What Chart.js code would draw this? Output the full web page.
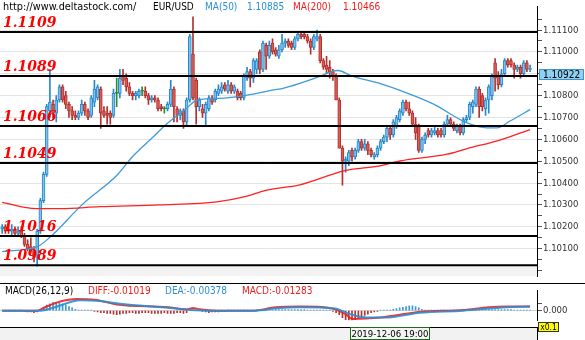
<!DOCTYPE html>
<html>
<head>
<meta charset="utf-8">
<script src="https://cdn.jsdelivr.net/npm/chart.js@4.4.1/dist/chart.umd.min.js"></script>
<style>
  body { margin: 0; width: 585px; height: 340px; position: relative; overflow: hidden; background: #fff;
         font-family: "DejaVu Sans Condensed", "DejaVu Sans", sans-serif; font-stretch: condensed; }
  .abs { position: absolute; }
  .hdr { top: 0; font-size: 10px; line-height: 14px; white-space: nowrap; }
  .leg { top: 284; font-size: 10px; line-height: 13px; white-space: nowrap; }
  #price-wrap { left: 0; top: 0; width: 585px; height: 283px; }
  #macd-wrap { left: 0; top: 284px; width: 585px; height: 43px; }
  #sep { left: 0; top: 283px; width: 585px; height: 0; border-top: 1px solid #000; }
  #foot { left: 0; top: 327px; width: 537px; height: 13px; background: #f2f2f2; border-top: 1px solid #000; border-right: 1px solid #000; }
  #stamp { left: 350px; top: 327px; width: 78px; height: 11px; border: 1px solid #1a6e1a; background: #f4f4f4;
           font-size: 9.5px; line-height: 12px; text-align: center; color: #000; }
  #scale { left: 538px; top: 322px; width: 19px; height: 8px; background: #ffff00; border: 1px solid #333;
           font-size: 8.5px; line-height: 9px; text-align: center; color: #000; }
</style>
</head>
<body>
<div id="price-wrap" class="abs"><canvas id="price"></canvas></div>
<div id="sep" class="abs"></div>
<div id="macd-wrap" class="abs"><canvas id="macd"></canvas></div>
<div id="foot" class="abs"></div>
<div id="stamp" class="abs">2019-12-06 19:00</div>
<div id="scale" class="abs">x0.1</div>

<div class="abs hdr" style="left:3px;color:#000;font-size:10.8px">http://www.deltastock.com/</div>
<div class="abs hdr" style="left:153px;color:#000">EUR/USD</div>
<div class="abs hdr" style="left:205px;color:#2a8fd6">MA(50)</div>
<div class="abs hdr" style="left:247px;color:#2a8fd6">1.10885</div>
<div class="abs hdr" style="left:293px;color:#f01c1c">MA(200)</div>
<div class="abs hdr" style="left:343px;color:#f01c1c">1.10466</div>

<div class="abs leg" style="top:284px;left:5px;color:#000">MACD(26,12,9)</div>
<div class="abs leg" style="top:284px;left:88px;color:#f01c1c">DIFF:-0.01019</div>
<div class="abs leg" style="top:284px;left:165px;color:#2a8fd6">DEA:-0.00378</div>
<div class="abs leg" style="top:284px;left:242px;color:#f01c1c">MACD:-0.01283</div>

<script>
// EUR/USD hourly candles: [open, high, low, close]
const ohlc = [
  [1.1019,1.1021,1.1017,1.1020],[1.1020,1.1021,1.1017,1.1018],[1.1019,1.1021,1.1017,1.1018],[1.1018,1.1021,1.1016,1.1019],
  [1.1019,1.1020,1.1016,1.1017],[1.1017,1.1020,1.1016,1.1018],[1.1018,1.1020,1.1015,1.1016],[1.1016,1.1017,1.1011,1.1012],
  [1.1012,1.1014,1.1009,1.1010],[1.1011,1.1015,1.1008,1.1009],[1.1009,1.1011,1.1004,1.1006],[1.1007,1.1019,1.1002,1.1018],
  [1.1018,1.1033,1.1017,1.1032],[1.1032,1.1045,1.1031,1.1044],[1.1044,1.1076,1.1043,1.1075],[1.1073,1.1092,1.1070,1.1077],
  [1.1076,1.1078,1.1070,1.1072],[1.1072,1.1080,1.1068,1.1078],[1.1078,1.1085,1.1077,1.1084],[1.1084,1.1085,1.1077,1.1078],
  [1.1080,1.1082,1.1074,1.1076],[1.1076,1.1077,1.1070,1.1073],[1.1073,1.1075,1.1069,1.1071],[1.1071,1.1073,1.1069,1.1070],
  [1.1070,1.1073,1.1069,1.1072],[1.1072,1.1078,1.1071,1.1076],[1.1076,1.1077,1.1071,1.1073],[1.1073,1.1074,1.1069,1.1070],
  [1.1071,1.1080,1.1070,1.1079],[1.1077,1.1087,1.1075,1.1083],[1.1079,1.1085,1.1078,1.1084],[1.1083,1.1084,1.1065,1.1072],
  [1.1073,1.1075,1.1070,1.1071],[1.1072,1.1075,1.1067,1.1071],[1.1072,1.1073,1.1067,1.1070],[1.1071,1.1083,1.1070,1.1081],
  [1.1081,1.1088,1.1075,1.1081],[1.1081,1.1092,1.1079,1.1088],[1.1089,1.1092,1.1085,1.1087],[1.1088,1.1090,1.1082,1.1084],
  [1.1084,1.1086,1.1080,1.1081],[1.1081,1.1082,1.1078,1.1080],[1.1080,1.1082,1.1078,1.1081],[1.1080,1.1083,1.1079,1.1082],
  [1.1082,1.1084,1.1080,1.1082],[1.1082,1.1084,1.1079,1.1080],[1.1080,1.1081,1.1076,1.1078],[1.1078,1.1080,1.1077,1.1079],
  [1.1079,1.1080,1.1077,1.1078],[1.1078,1.1079,1.1073,1.1074],[1.1075,1.1076,1.1073,1.1074],[1.1074,1.1075,1.1072,1.1074],
  [1.1074,1.1077,1.1073,1.1076],[1.1076,1.1087,1.1075,1.1083],[1.1083,1.1084,1.1068,1.1075],[1.1074,1.1075,1.1068,1.1071],
  [1.1071,1.1074,1.1069,1.1073],[1.1073,1.1074,1.1065,1.1068],[1.1068,1.1079,1.1066,1.1078],[1.1078,1.1108,1.1077,1.1107],
  [1.1099,1.1116,1.1078,1.1079],[1.1087,1.1088,1.1067,1.1075],[1.1075,1.1079,1.1073,1.1078],[1.1074,1.1076,1.1070,1.1072],
  [1.1072,1.1077,1.1066,1.1076],[1.1074,1.1080,1.1073,1.1079],[1.1079,1.1080,1.1076,1.1077],[1.1078,1.1083,1.1077,1.1082],
  [1.1081,1.1085,1.1080,1.1083],[1.1082,1.1086,1.1081,1.1084],[1.1085,1.1086,1.1082,1.1083],[1.1082,1.1087,1.1081,1.1085],
  [1.1085,1.1086,1.1081,1.1082],[1.1082,1.1085,1.1081,1.1084],[1.1082,1.1083,1.1078,1.1079],[1.1081,1.1082,1.1078,1.1079],
  [1.1079,1.1090,1.1078,1.1089],[1.1088,1.1093,1.1087,1.1091],[1.1091,1.1092,1.1084,1.1088],[1.1088,1.1097,1.1086,1.1096],
  [1.1092,1.1097,1.1090,1.1096],[1.1100,1.1101,1.1090,1.1092],[1.1092,1.1105,1.1091,1.1104],[1.1103,1.1104,1.1092,1.1098],
  [1.1098,1.1105,1.1097,1.1103],[1.1104,1.1106,1.1099,1.1100],[1.1101,1.1102,1.1098,1.1099],[1.1098,1.1103,1.1097,1.1101],
  [1.1101,1.1108,1.1100,1.1104],[1.1104,1.1106,1.1102,1.1105],[1.1105,1.1106,1.1102,1.1103],[1.1104,1.1105,1.1101,1.1102],
  [1.1102,1.1107,1.1101,1.1106],[1.1106,1.1109,1.1105,1.1108],[1.1108,1.1109,1.1106,1.1107],[1.1108,1.1109,1.1106,1.1107],
  [1.1107,1.1108,1.1104,1.1105],[1.1105,1.1106,1.1099,1.1102],[1.1102,1.1108,1.1101,1.1107],[1.1106,1.1110,1.1105,1.1107],
  [1.1107,1.1108,1.1095,1.1096],[1.1096,1.1097,1.1092,1.1093],[1.1094,1.1098,1.1090,1.1092],[1.1093,1.1096,1.1088,1.1091],
  [1.1091,1.1092,1.1087,1.1089],[1.1089,1.1090,1.1078,1.1078],[1.1078,1.1079,1.1056,1.1056],[1.1056,1.1057,1.1039,1.1050],
  [1.1050,1.1052,1.1045,1.1051],[1.1050,1.1055,1.1048,1.1054],[1.1055,1.1056,1.1050,1.1052],[1.1052,1.1056,1.1051,1.1055],
  [1.1055,1.1060,1.1054,1.1059],[1.1059,1.1060,1.1055,1.1056],[1.1056,1.1060,1.1055,1.1058],[1.1058,1.1059,1.1053,1.1055],
  [1.1055,1.1056,1.1052,1.1053],[1.1052,1.1054,1.1051,1.1053],[1.1053,1.1057,1.1052,1.1056],[1.1056,1.1060,1.1055,1.1059],
  [1.1059,1.1062,1.1058,1.1061],[1.1061,1.1066,1.1059,1.1065],[1.1065,1.1066,1.1060,1.1062],[1.1062,1.1069,1.1061,1.1068],
  [1.1066,1.1071,1.1065,1.1070],[1.1069,1.1074,1.1068,1.1073],[1.1072,1.1078,1.1071,1.1077],[1.1077,1.1078,1.1073,1.1074],
  [1.1074,1.1077,1.1071,1.1072],[1.1072,1.1073,1.1066,1.1067],[1.1067,1.1070,1.1060,1.1063],[1.1066,1.1067,1.1054,1.1055],
  [1.1055,1.1061,1.1054,1.1060],[1.1060,1.1063,1.1058,1.1062],[1.1064,1.1065,1.1061,1.1062],[1.1062,1.1065,1.1061,1.1064],
  [1.1063,1.1066,1.1062,1.1064],[1.1064,1.1065,1.1061,1.1062],[1.1064,1.1065,1.1061,1.1062],[1.1062,1.1068,1.1061,1.1067],
  [1.1067,1.1071,1.1066,1.1069],[1.1069,1.1070,1.1066,1.1067],[1.1067,1.1068,1.1064,1.1065],[1.1064,1.1067,1.1063,1.1066],
  [1.1066,1.1067,1.1062,1.1063],[1.1063,1.1070,1.1062,1.1069],[1.1069,1.1071,1.1068,1.1070],[1.1070,1.1077,1.1069,1.1076],
  [1.1075,1.1078,1.1072,1.1077],[1.1076,1.1084,1.1075,1.1083],[1.1083,1.1084,1.1070,1.1075],[1.1080,1.1081,1.1073,1.1075],
  [1.1074,1.1079,1.1071,1.1078],[1.1078,1.1085,1.1072,1.1084],[1.1080,1.1090,1.1078,1.1089],[1.1095,1.1097,1.1082,1.1088],
  [1.1089,1.1091,1.1083,1.1085],[1.1085,1.1092,1.1084,1.1090],[1.1090,1.1097,1.1089,1.1096],[1.1096,1.1097,1.1093,1.1094],
  [1.1096,1.1097,1.1093,1.1094],[1.1094,1.1095,1.1088,1.1092],[1.1092,1.1094,1.1091,1.1093],[1.1093,1.1094,1.1088,1.1090],
  [1.1090,1.1096,1.1089,1.1095],[1.1095,1.1096,1.1091,1.1092],[1.1092,1.1094,1.1091,1.10922]
];

// moving averages, [bar index, value]
const ma50 = [
  [0,1.10087],[11,1.10109],[15,1.10152],[25.4,1.10305],[36.1,1.10436],[41.1,1.10523],[47.1,1.10606],
  [51.8,1.10671],[57.5,1.10736],[61.3,1.10780],[70,1.10789],[77,1.10802],[84.2,1.10823],[88.9,1.10836],
  [98.4,1.10880],[105.6,1.10915],[110,1.10889],[118.2,1.10858],[126.7,1.10815],[135.5,1.10762],
  [146.2,1.10675],[152.4,1.10653],[155.6,1.10653],[159.7,1.10684],[166,1.10736]
];
const ma200 = [
  [0,1.10312],[10.6,1.10283],[18.2,1.10283],[30.8,1.10292],[49.6,1.10300],[67.5,1.10314],[77,1.10340],
  [82.6,1.10366],[93.6,1.10392],[107.8,1.10457],[118.8,1.10479],[125.1,1.10501],[139.9,1.10532],
  [146.2,1.10558],[156.5,1.10597],[166,1.10645]
];

// support / resistance levels
const levels = [1.1109, 1.1089, 1.1066, 1.1049, 1.1016, 1.0989];

// right axis ticks
const priceTicks = [1.1000,1.1005,1.1010,1.1015,1.1020,1.1025,1.1030,1.1035,1.1040,1.1045,1.1050,1.1055,
  1.1060,1.1065,1.1070,1.1075,1.1080,1.1085,1.1090,1.1095,1.1100,1.1105,1.1110,1.1115];
const labelledTicks = [1.1010,1.1020,1.1030,1.1040,1.1050,1.1060,1.1070,1.1080,1.1090,1.1100,1.1110];

// MACD(26,12,9)
const diffLine = [
  [0,0],[11,0],[13.5,0.0005],[18,0.0013],[23.5,0.0017],[29,0.0016],[36,0.0009],[52,0.0005],[58,0.0002],
  [60,0.0004],[62,0.0002],[67.5,0],[79,0],[86,0.0005],[94,0.0006],[103,0.0004],[108,-0.0005],[110,-0.0012],
  [119,-0.0010],[125,-0.0006],[131,-0.0002],[145,0.0001],[153,0.0005],[159,0.0006],[166,0.0006]
];
const deaLine = [
  [0,0],[12,0],[16.6,0.0005],[24.5,0.0015],[30.8,0.0014],[37,0.0010],[52.8,0.0004],[59,0.0001],[67.5,0],
  [79,0],[87.4,0.0004],[93.6,0.0005],[104.6,0.0003],[109.4,-0.0005],[114.7,-0.0010],[120.4,-0.0010],
  [131.4,-0.0003],[144.9,0],[158.7,0.0005],[166,0.0006]
];
// histogram per bar, in pips (0.0001)
const macdHistPips = [
  1,1,1,1,1,1,1, -1,-2,-2,-3,-2, 2,5,8,10,12,12,11,10,8,6,4,2,1, 1,1,1,1,
  -1,-2,-3,-3,-4,-4,-5,-6,-5,-4,-4,-3,-3,-4,-4,-3,-3,-3,-4,-4,-4,-4,-3,-4,-4,-4,-3,-3,-4,-3,
  1,1,1,1, -1,-2,-3,-2,-2,-2,-1,-1,
  1,1,1,1,1,1,1,1,1,1,1,1,1,1,1, 1.5,1.5,1.5,1.5,1.5,1.5,1.5,1.5,1.5,1.5, 1,1,1,1,1,1,1,1,
  -1,-3,-6,-10,-13,-14,-14,-13,-11,-9,-7,-5,-3,-2,-1, 1,1,1,
  1,2,3,4,5,6,7,7,6,4,2,1,
  1,1,1,1,1,1,1,1,1,1,1,1,
  1.5,1.5,1.5,1.5,1.5,1.5,1.5,1.5,1.5,1.5,1.5,1.5,1.5,1.5,1.5, 1,1,1,1,1,1
];

const PIP = 0.0001;
const X_MIN = -0.69, X_MAX = 168.18;
const PRICE_MAX = 1.112068, PRICE_MIN = 1.099737;
const FOOT = 11;               // grey strip under the candle area
const AXIS_W = 48;
const AXIS_FONT = '"DejaVu Sans Condensed", "DejaVu Sans", sans-serif';

const BULL_LINE = '#2688cc', BULL_FILL = '#7fc1ea';
const BEAR_LINE = '#b3302c', BEAR_FILL = '#d65d58';
const DOJI = '#2e8b2e';

const kind = ohlc.map(([o, , , c]) => c > o ? 'up' : c < o ? 'down' : 'flat');
const lineCol = kind.map(k => k === 'up' ? BULL_LINE : k === 'down' ? BEAR_LINE : DOJI);
const fillCol = kind.map(k => k === 'up' ? BULL_FILL : k === 'down' ? BEAR_FILL : DOJI);
const pts = arr => arr.map(([x, y]) => ({ x, y }));
const isOn = (v, step) => Math.abs(v / step - Math.round(v / step)) < 1e-6;

Chart.defaults.font.family = AXIS_FONT;
Chart.defaults.animation = false;

const priceOverlay = {
  id: 'priceOverlay',
  beforeDatasetsDraw(chart) {
    const { ctx, chartArea: a } = chart;
    ctx.save();
    ctx.fillStyle = '#f3f3f3';
    ctx.fillRect(a.left, a.bottom - FOOT, a.right - a.left, FOOT);
    ctx.restore();
  },
  afterDatasetsDraw(chart) {
    const { ctx, chartArea: a, scales: { y } } = chart;
    const floor = a.bottom - FOOT;
    ctx.save();
    levels.forEach(v => {
      const py = Math.min(Math.round(y.getPixelForValue(v)), floor);
      ctx.strokeStyle = '#000';
      ctx.lineWidth = 2;
      ctx.beginPath();
      ctx.moveTo(a.left, py);
      ctx.lineTo(a.right, py);
      ctx.stroke();
      ctx.font = 'italic bold 14px "DejaVu Serif"';
      ctx.fillStyle = '#ff0000';
      ctx.textBaseline = 'alphabetic';
      ctx.fillText(v.toFixed(4), 3, py - 5.5);
    });
    // last price tag on the axis
    const last = ohlc[ohlc.length - 1][3];
    const ty = Math.round(y.getPixelForValue(last));
    ctx.fillStyle = '#8fd1f2';
    ctx.fillRect(a.right + 2, ty, AXIS_W - 3, 11);
    ctx.strokeStyle = '#3f93c9';
    ctx.lineWidth = 1;
    ctx.strokeRect(a.right + 2.5, ty + 0.5, AXIS_W - 4, 10);
    ctx.fillStyle = '#000';
    ctx.font = '10px ' + AXIS_FONT;
    ctx.textBaseline = 'middle';
    ctx.fillText(last.toFixed(5), a.right + 6, ty + 6);
    ctx.restore();
  }
};

new Chart(document.getElementById('price'), {
  type: 'bar',
  data: {
    datasets: [
      { type: 'line', data: pts(ma200), borderColor: '#ff2020', borderWidth: 1.3, pointRadius: 0,
        cubicInterpolationMode: 'monotone', order: 0 },
      { type: 'line', data: pts(ma50), borderColor: '#3c9bd8', borderWidth: 1.3, pointRadius: 0,
        cubicInterpolationMode: 'monotone', order: 0 },
      { data: ohlc.map(([o, h, l, c], i) => ({ x: i, y: [o, c] })), backgroundColor: fillCol,
        borderColor: lineCol, borderWidth: 1, borderSkipped: false, barThickness: 3, minBarLength: 1,
        grouped: false, order: 1 },
      { data: ohlc.map(([o, h, l, c], i) => ({ x: i, y: [l, h] })), backgroundColor: lineCol,
        barThickness: 1, grouped: false, order: 2 }
    ]
  },
  options: {
    responsive: true,
    maintainAspectRatio: false,
    devicePixelRatio: 1,
    layout: { padding: 0 },
    plugins: { legend: { display: false }, tooltip: { enabled: false } },
    scales: {
      x: { type: 'linear', min: X_MIN, max: X_MAX, offset: false, display: false },
      y: {
        position: 'right', min: PRICE_MIN, max: PRICE_MAX,
        afterBuildTicks: s => { s.ticks = priceTicks.map(value => ({ value })); },
        afterFit: s => { s.width = AXIS_W; },
        ticks: {
          autoSkip: false, padding: 1, color: '#333', font: { size: 9.5 },
          callback: v => labelledTicks.some(t => Math.abs(t - v) < 1e-7) ? v.toFixed(5) : ''
        },
        grid: {
          color: c => isOn(c.tick.value, 0.001) ? '#e4e4e4' : 'rgba(0,0,0,0)',
          tickColor: '#555', tickLength: 5
        },
        border: { display: true, color: '#000' }
      }
    }
  },
  plugins: [priceOverlay]
});

new Chart(document.getElementById('macd'), {
  type: 'bar',
  data: {
    datasets: [
      { type: 'line', data: pts(deaLine), borderColor: 'rgba(43,143,208,0.9)', borderWidth: 2, pointRadius: 0,
        cubicInterpolationMode: 'monotone', order: 0 },
      { type: 'line', data: pts(diffLine), borderColor: 'rgba(240,30,30,0.9)', borderWidth: 2, pointRadius: 0,
        cubicInterpolationMode: 'monotone', order: 0 },
      { data: macdHistPips.map((v, i) => ({ x: i, y: v * PIP })),
        backgroundColor: macdHistPips.map(v => v >= 0 ? '#3a9ad9' : '#b3302c'),
        barThickness: 1, grouped: false, order: 1 }
    ]
  },
  options: {
    responsive: true,
    maintainAspectRatio: false,
    devicePixelRatio: 1,
    layout: { padding: 0 },
    plugins: { legend: { display: false }, tooltip: { enabled: false } },
    scales: {
      x: { type: 'linear', min: X_MIN, max: X_MAX, offset: false, display: false },
      y: {
        position: 'right', min: -0.0014, max: 0.0029,
        afterBuildTicks: s => { s.ticks = [0, 0.001].map(value => ({ value })); },
        afterFit: s => { s.width = AXIS_W; },
        ticks: { autoSkip: false, padding: 1, color: '#333', font: { size: 9.5 },
                 callback: v => v === 0 ? '0.000' : '' },
        grid: { color: c => c.tick.value === 0 ? '#d6d6d6' : 'rgba(0,0,0,0)', tickColor: '#555', tickLength: 5 },
        border: { display: true, color: '#000' }
      }
    }
  }
});
</script>
</body>
</html>
